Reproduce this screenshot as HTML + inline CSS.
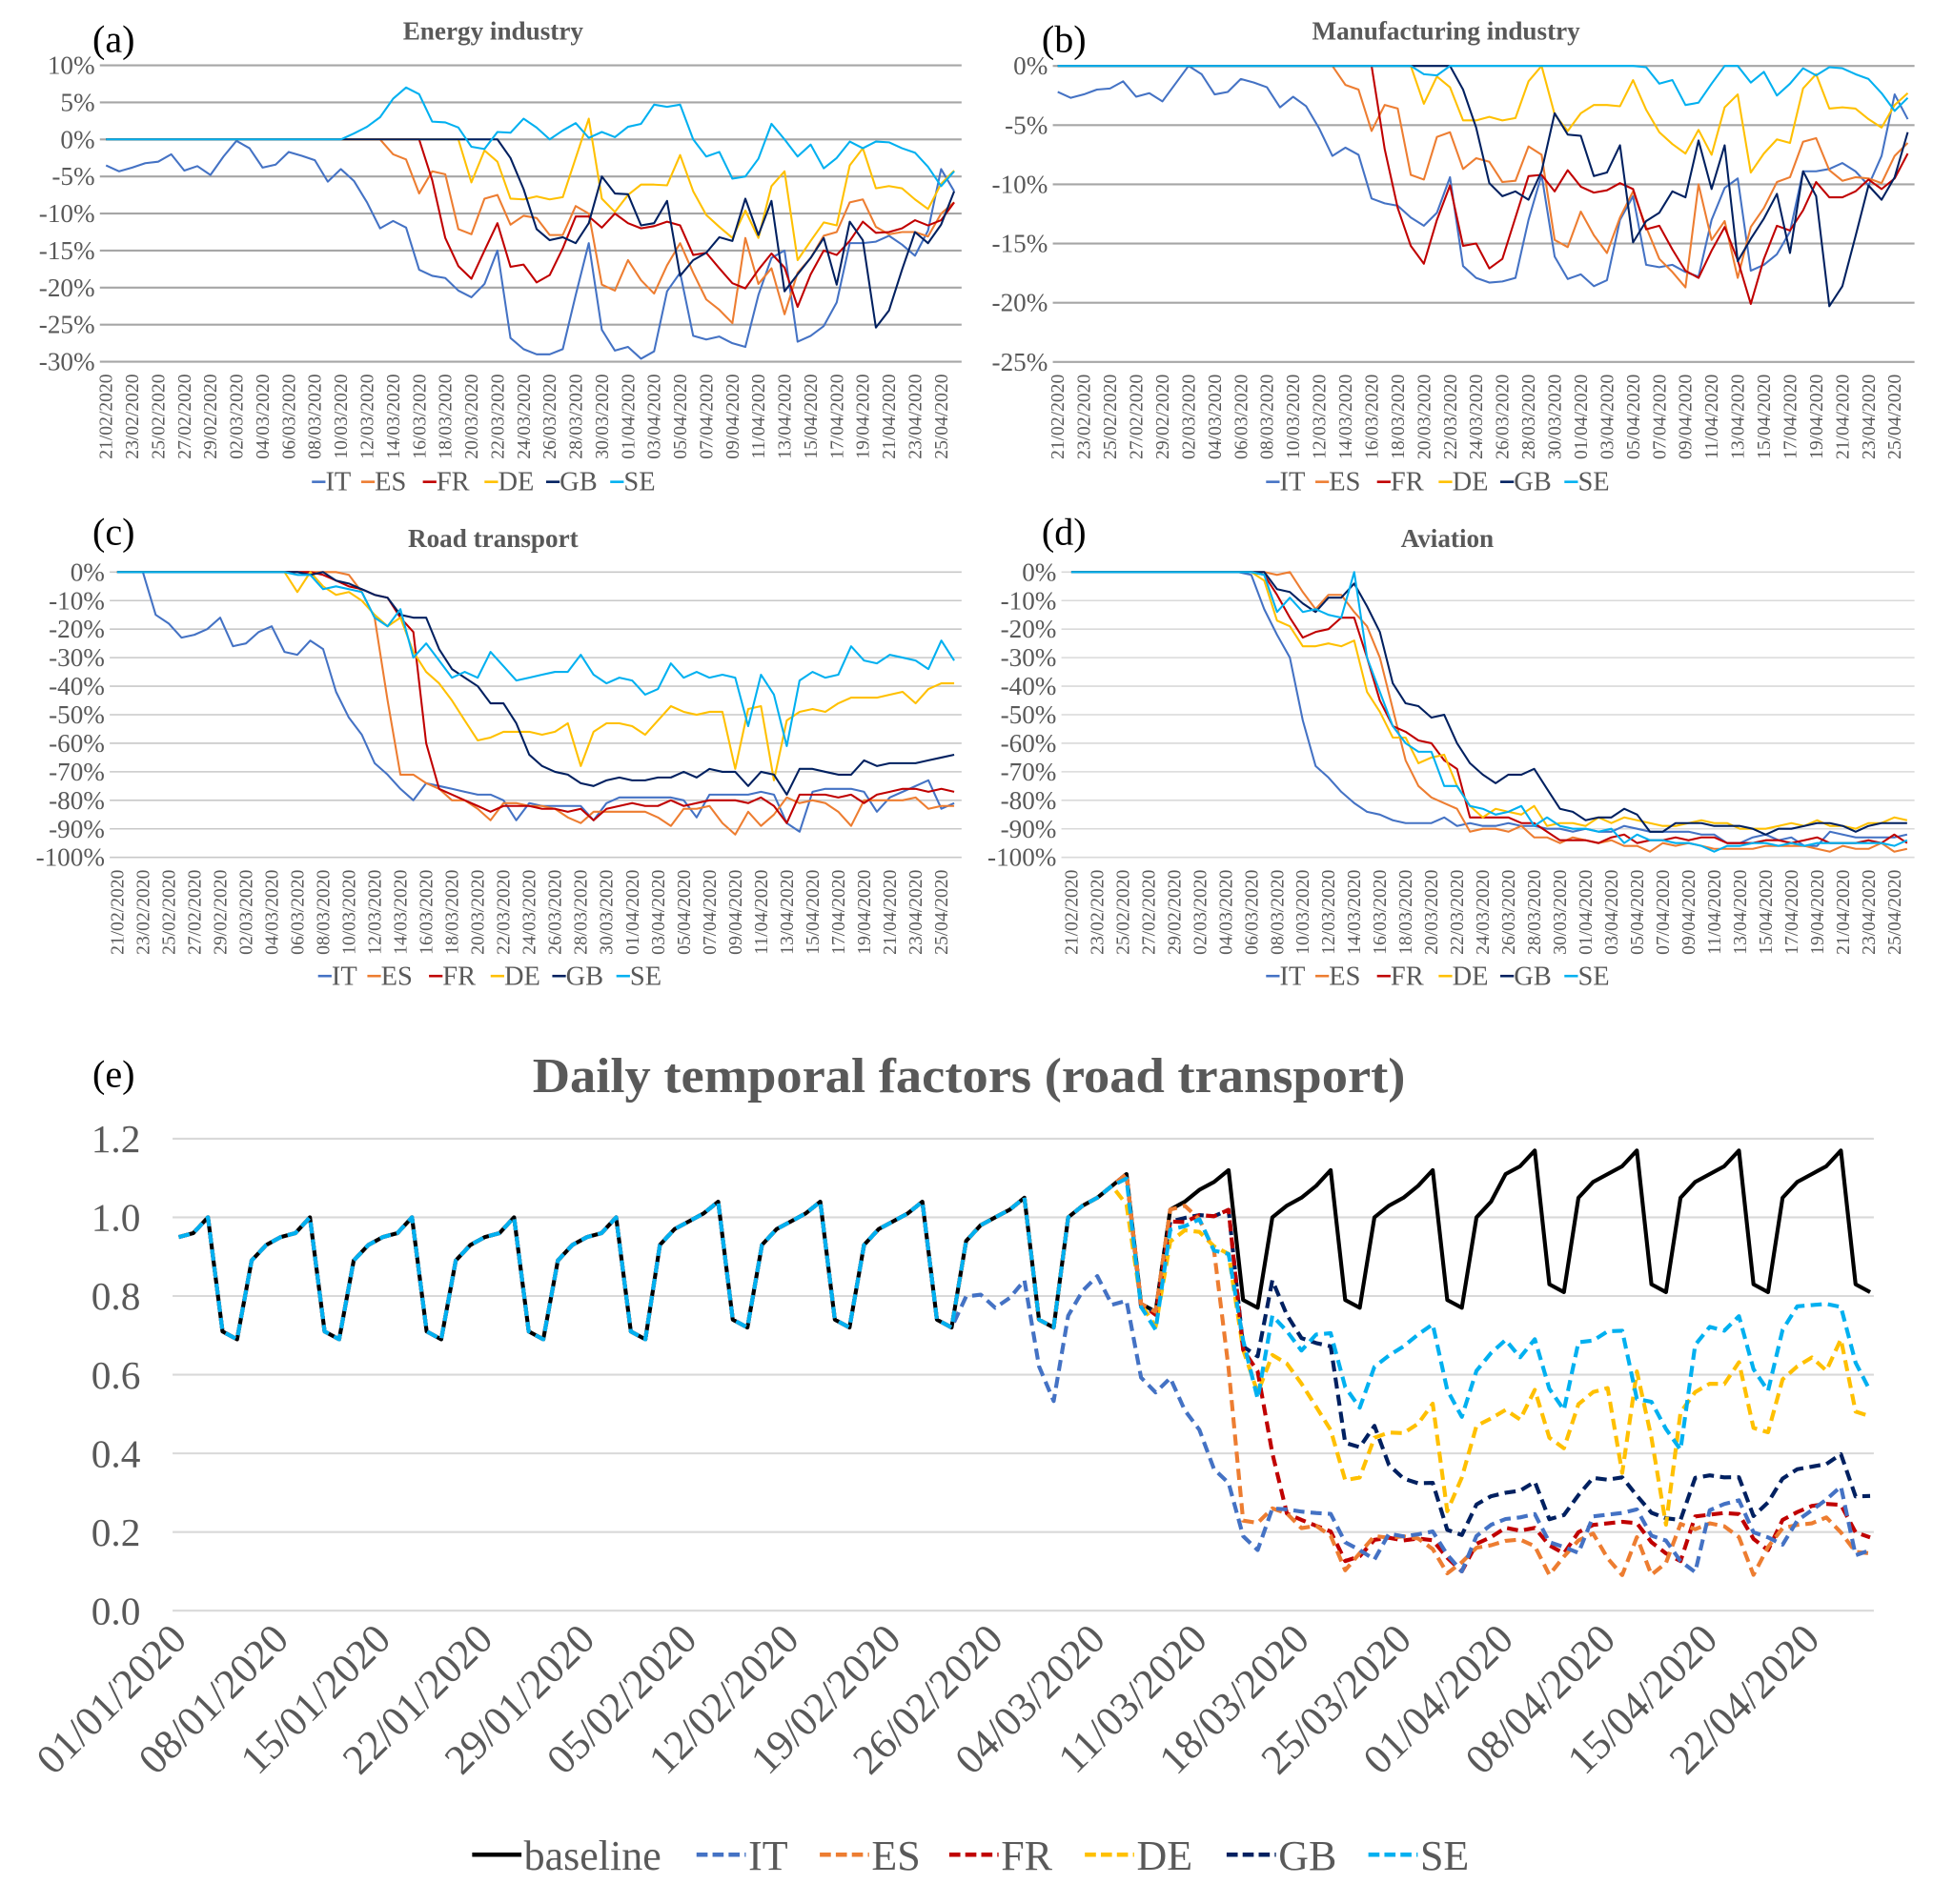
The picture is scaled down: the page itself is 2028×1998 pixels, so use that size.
<!DOCTYPE html>
<html><head><meta charset="utf-8"><style>
html,body{margin:0;padding:0;background:#fff;}
svg{display:block;}
</style></head><body>
<svg id="fig" xmlns="http://www.w3.org/2000/svg" width="2028" height="1998" viewBox="0 0 1568 1545" preserveAspectRatio="none" font-family="'Liberation Serif', serif">
<rect x="0" y="0" width="1568" height="1545" fill="#fff"/>
</svg>
<script>
// ---------- data: panels (a)-(d), % change, 21/02/2020 .. 26/04/2020 (66 days) ----------
const countries = ["IT","ES","FR","DE","GB","SE"];
const countryColors = ["#4472C4","#ED7D31","#C00000","#FFC000","#002060","#00B0F0"];
const Z9 = [0,0,0,0,0,0,0,0,0];

const energyIT = [-3.5,-4.3,-3.8,-3.2,-3,-2,-4.2,-3.6,-4.8,
 -2.3,-0.2,-1.2,-3.8,-3.4,-1.7,-2.2,-2.8,-5.7,-4,-5.6,-8.5,-12,-11,-11.9,-17.6,-18.4,-18.7,-20.4,-21.3,-19.5,-15,-26.8,-28.3,-29,-29,-28.3,-21,-14,-25.7,-28.5,
 -28,-29.6,-28.6,-20.5,-18,-26.5,-27,-26.6,-27.5,-28,-21,-16,-15,-27.3,-26.5,-25.2,-22,-14,-14,-13.8,-13,-14.2,-15.7,-12.3,-4,-7];
const energyES = Z9.concat([0,0,0,0,0,0,0,0,0,0,0,0,0,-2,-2.7,-7.3,-4.3,-4.7,-12.1,-12.8,-8,-7.5,-11.5,-10.3,-10.6,-12.9,-12.9,-9,-10,-19.6,-20.4,
 -16.3,-19,-20.8,-17,-14,-18,-21.6,-23,-24.8,-13.3,-19.5,-17.4,-23.6,-18,-16,-13,-12.5,-8.5,-8.1,-11.8,-12.8,-12.5,-12.5,-13.1,-10,-8.5]);
const energyFR = Z9.concat([0,0,0,0,0,0,0,0,0,0,0,0,0,0,0,0,-5.5,-13.3,-17.1,-18.8,-15,-11.3,-17.2,-16.9,-19.3,-18.3,-14.7,-10.4,-10.4,-11.9,-10,
 -11.3,-12,-11.7,-11.1,-11.6,-15.6,-15.3,-17.4,-19.4,-20.1,-17.6,-15.4,-17.3,-22.6,-18.2,-15,-15.6,-13.7,-11.1,-12.6,-12.5,-12,-10.9,-11.6,-10.9,-8.5]);
const energyDE = Z9.concat([0,0,0,0,0,0,0,0,0,0,0,0,0,0,0,0,0,0,0,-5.8,-1.5,-3,-8,-8.1,-7.7,-8.1,-7.8,-2.5,2.8,-8,-9.8,
 -7.5,-6.1,-6.1,-6.2,-2.1,-7,-10.2,-11.8,-13.3,-9.6,-13.3,-6.3,-4.3,-16.3,-13.7,-11.2,-11.6,-3.5,-1.2,-6.6,-6.3,-6.6,-8.1,-9.4,-6,-4.2]);
const energyGB = Z9.concat([0,0,0,0,0,0,0,0,0,0,0,0,0,0,0,0,0,0,0,0,0,0,-2.5,-6.7,-12.1,-13.6,-13.2,-14,-11.3,-5,-7.3,
 -7.4,-11.6,-11.3,-8.3,-18.4,-16.3,-15.3,-13.2,-13.7,-8,-12.9,-8.3,-20.5,-18.2,-16,-13.3,-19.6,-11.1,-13.6,-25.4,-23.1,-17.6,-12.5,-14,-11.5,-7]);
const energySE = Z9.concat([0,0,0,0,0,0,0,0,0,0,0.8,1.7,3,5.5,7,6.1,2.4,2.3,1.6,-1,-1.3,1,0.9,2.8,1.6,0,1.2,2.2,0.2,1,0.3,
 1.7,2.1,4.7,4.4,4.7,0,-2.3,-1.7,-5.3,-5,-2.6,2.1,0,-2.3,-0.7,-3.9,-2.5,-0.3,-1.2,-0.3,-0.4,-1.2,-1.8,-3.7,-6.3,-4.3]);

const manufIT = [-2.2,-2.7,-2.4,-2,-1.9,-1.3,-2.6,-2.3,-3,
 -1.5,0,-0.7,-2.4,-2.2,-1.1,-1.4,-1.8,-3.5,-2.6,-3.4,-5.3,-7.6,-6.9,-7.5,-11.2,-11.6,-11.8,-12.8,-13.5,-12.4,-9.4,-16.9,-17.9,-18.3,-18.2,-17.9,-13,-9.2,-16.1,-18,
 -17.6,-18.6,-18.1,-13,-11,-16.8,-17,-16.8,-17.4,-17.8,-13,-10.3,-9.5,-17.3,-16.8,-15.9,-14,-8.9,-8.9,-8.7,-8.2,-8.9,-10.1,-7.6,-2.4,-4.5];
const manufES = Z9.concat([0,0,0,0,0,0,0,0,0,0,0,0,0,-1.6,-2,-5.5,-3.3,-3.6,-9.2,-9.6,-6,-5.6,-8.7,-7.8,-8.1,-9.8,-9.7,-6.8,-7.5,-14.7,-15.3,
 -12.3,-14.3,-15.8,-12.8,-10.6,-13.6,-16.3,-17.4,-18.7,-10,-14.7,-13.1,-17.9,-13.6,-12,-9.8,-9.4,-6.4,-6.1,-8.8,-9.7,-9.4,-9.5,-9.9,-7.6,-6.5]);
const manufFR = Z9.concat([0,0,0,0,0,0,0,0,0,0,0,0,0,0,0,0,-7,-12,-15.2,-16.7,-13,-10.1,-15.2,-15,-17.1,-16.3,-12.8,-9.3,-9.2,-10.6,-8.8,
 -10.2,-10.7,-10.5,-9.9,-10.4,-13.8,-13.5,-15.5,-17.3,-17.9,-15.6,-13.6,-16.4,-20.1,-16.3,-13.5,-13.9,-12.2,-9.8,-11.1,-11.1,-10.6,-9.6,-10.4,-9.5,-7.4]);
const manufDE = Z9.concat([0,0,0,0,0,0,0,0,0,0,0,0,0,0,0,0,0,0,0,-3.2,-0.9,-1.8,-4.6,-4.6,-4.3,-4.6,-4.4,-1.3,0,-4.1,-5.5,
 -4,-3.3,-3.3,-3.4,-1.2,-3.7,-5.6,-6.6,-7.4,-5.4,-7.5,-3.5,-2.4,-9,-7.4,-6.2,-6.5,-1.9,-0.7,-3.6,-3.5,-3.6,-4.5,-5.2,-3.3,-2.3]);
const manufGB = Z9.concat([0,0,0,0,0,0,0,0,0,0,0,0,0,0,0,0,0,0,0,0,0,0,-2,-5.2,-9.9,-11,-10.6,-11.3,-8.9,-4,-5.8,
 -5.9,-9.3,-9,-6.7,-14.9,-13.1,-12.4,-10.6,-11.1,-6.3,-10.4,-6.7,-16.5,-14.6,-12.9,-10.8,-15.8,-8.9,-11,-20.3,-18.6,-14.4,-10.1,-11.3,-9.4,-5.6]);
const manufSE = Z9.concat([0,0,0,0,0,0,0,0,0,0,0,0,0,0,0,0,0,0,0,-0.7,-0.8,0,0,0,0,0,0,0,0,0,0,
 0,0,0,0,0,-0.1,-1.5,-1.2,-3.3,-3.1,-1.5,0,0,-1.4,-0.5,-2.5,-1.5,-0.2,-0.8,-0.1,-0.2,-0.7,-1.1,-2.3,-3.8,-2.7]);

const roadIT = [0,0,0,-15,-18,-23,-22,-20,-16,
 -26,-25,-21,-19,-28,-29,-24,-27,-42,-51,-57,-67,-71,-76,-80,-74,-75,-76,-77,-78,-78,-80,-87,-81,-82,-82,-82,-82,-87,-81,-79,
 -79,-79,-79,-79,-80,-86,-78,-78,-78,-78,-77,-78,-88,-91,-77,-76,-76,-76,-77,-84,-79,-77,-75,-73,-83,-81];
const roadES = Z9.concat([0,0,0,0,0,0,0,0,0,-1,-7,-16,-45,-71,-71,-74,-76,-80,-80,-83,-87,-81,-81,-82,-82,-83,-86,-88,-84,-84,-84,
 -84,-84,-86,-89,-83,-83,-82,-88,-92,-84,-89,-85,-79,-81,-80,-81,-84,-89,-80,-80,-80,-80,-79,-83,-82,-82]);
const roadFR = Z9.concat([0,0,0,0,0,0,0,-1,-3,-5,-6,-8,-9,-16,-21,-60,-76,-78,-80,-82,-84,-82,-82,-82,-83,-83,-84,-83,-87,-83,-82,
 -81,-82,-82,-80,-82,-81,-80,-80,-80,-81,-79,-82,-88,-78,-78,-78,-79,-78,-81,-78,-77,-76,-76,-77,-76,-77]);
const roadDE = Z9.concat([0,0,0,0,0,-7,0,-5,-8,-7,-10,-15,-19,-16,-28,-35,-39,-45,-52,-59,-58,-56,-56,-56,-57,-56,-53,-68,-56,-53,-53,
 -54,-57,-52,-47,-49,-50,-49,-49,-69,-48,-47,-73,-52,-49,-48,-49,-46,-44,-44,-44,-43,-42,-46,-41,-39,-39]);
const roadGB = Z9.concat([0,0,0,0,0,0,-1,0,-3,-4,-6,-8,-9,-15,-16,-16,-27,-34,-37,-40,-46,-46,-53,-64,-68,-70,-71,-74,-75,-73,-72,
 -73,-73,-72,-72,-70,-72,-69,-70,-70,-75,-70,-71,-78,-69,-69,-70,-71,-71,-66,-68,-67,-67,-67,-66,-65,-64]);
const roadSE = Z9.concat([0,0,0,0,0,-1,-1,-6,-5,-6,-7,-16,-19,-13,-30,-25,-31,-37,-35,-37,-28,-33,-38,-37,-36,-35,-35,-29,-36,-39,-37,
 -38,-43,-41,-32,-37,-35,-37,-36,-37,-54,-36,-43,-61,-38,-35,-37,-36,-26,-31,-32,-29,-30,-31,-34,-24,-31]);

const aviaIT = Z9.concat([0,0,0,0,0,-1,-13,-22,-30,-52,-68,-72,-77,-81,-84,-85,-87,-88,-88,-88,-86,-89,-88,-89,-89,-88,-89,-89,-90,-90,-91,
 -90,-91,-91,-89,-90,-91,-91,-91,-91,-92,-92,-95,-95,-93,-92,-94,-93,-96,-96,-91,-92,-93,-93,-93,-93,-92]);
const aviaES = Z9.concat([0,0,0,0,0,0,0,-1,0,-7,-13,-8,-8,-14,-19,-30,-48,-66,-75,-79,-81,-83,-91,-90,-90,-91,-89,-93,-93,-95,-93,
 -94,-95,-94,-96,-96,-98,-95,-96,-95,-96,-97,-97,-97,-97,-96,-96,-96,-96,-97,-98,-96,-97,-97,-95,-98,-97]);
const aviaFR = Z9.concat([0,0,0,0,0,0,-1,-8,-16,-23,-21,-20,-16,-16,-30,-45,-54,-56,-59,-60,-66,-69,-86,-86,-86,-86,-88,-88,-91,-94,-94,
 -94,-95,-93,-92,-95,-94,-94,-93,-94,-93,-93,-95,-95,-95,-94,-94,-95,-94,-93,-95,-95,-95,-94,-95,-92,-95]);
const aviaDE = Z9.concat([0,0,0,0,0,0,-3,-17,-19,-26,-26,-25,-26,-24,-42,-49,-58,-58,-67,-65,-64,-75,-82,-86,-83,-84,-85,-82,-89,-88,-88,
 -89,-86,-88,-86,-87,-88,-89,-89,-88,-87,-88,-88,-90,-90,-90,-89,-88,-89,-87,-89,-89,-90,-88,-88,-86,-87]);
const aviaGB = Z9.concat([0,0,0,0,0,0,0,-6,-7,-11,-14,-9,-9,-4,-12,-21,-39,-46,-47,-51,-50,-60,-67,-71,-74,-71,-71,-69,-76,-83,-84,
 -87,-86,-86,-83,-85,-91,-91,-88,-88,-88,-89,-89,-89,-90,-92,-90,-90,-89,-88,-88,-89,-91,-89,-88,-88,-88]);
const aviaSE = Z9.concat([0,0,0,0,0,0,-1,-14,-9,-14,-13,-15,-16,0,-30,-42,-54,-60,-63,-63,-75,-75,-82,-83,-85,-84,-82,-89,-86,-89,-90,
 -90,-91,-90,-95,-92,-94,-94,-95,-95,-96,-98,-96,-96,-95,-95,-96,-95,-96,-95,-95,-95,-95,-95,-95,-96,-94]);

// ---------- data: panel (e) baseline daily factors 01/01/2020 .. 26/04/2020 (117 days) ----------
const baseline = [0.95,0.96,1.00,0.71,0.69,
 0.89,0.93,0.95,0.96,1.00,0.71,0.69, 0.89,0.93,0.95,0.96,1.00,0.71,0.69,
 0.89,0.93,0.95,0.96,1.00,0.71,0.69, 0.89,0.93,0.95,0.96,1.00,0.71,0.69,
 0.93,0.97,0.99,1.01,1.04,0.74,0.72, 0.93,0.97,0.99,1.01,1.04,0.74,0.72,
 0.93,0.97,0.99,1.01,1.04,0.74,0.72, 0.94,0.98,1.00,1.02,1.05,0.74,0.72,
 1.00,1.03,1.05,1.08,1.11,0.78,0.76, 1.02,1.04,1.07,1.09,1.12,0.79,0.77,
 1.00,1.03,1.05,1.08,1.12,0.79,0.77, 1.00,1.03,1.05,1.08,1.12,0.79,0.77,
 1.00,1.04,1.11,1.13,1.17,0.83,0.81, 1.05,1.09,1.11,1.13,1.17,0.83,0.81,
 1.05,1.09,1.11,1.13,1.17,0.83,0.81, 1.05,1.09,1.11,1.13,1.17,0.83,0.81];
const roadStartDay = 51; // 21/02/2020 index in panel (e)
const eTickLabels = ["01/01/2020","08/01/2020","15/01/2020","22/01/2020","29/01/2020","05/02/2020","12/02/2020","19/02/2020","26/02/2020","04/03/2020","11/03/2020","18/03/2020","25/03/2020","01/04/2020","08/04/2020","15/04/2020","22/04/2020"];
const eYTicks = [0,0.2,0.4,0.6,0.8,1.0,1.2];

// ---------- rendering ----------
const NS = "http://www.w3.org/2000/svg";
const svg = document.getElementById('fig');
function el(tag, attrs, parent){ const e=document.createElementNS(NS,tag); for(const k in attrs) e.setAttribute(k,attrs[k]); (parent||svg).appendChild(e); return e; }
function txt(s, attrs, parent){ const e=el('text',attrs,parent); e.textContent=s; return e; }

const smallDates = [];
for(let i=0;i<66;i++){ const d=new Date(Date.UTC(2020,1,21+i)); smallDates.push(String(d.getUTCDate()).padStart(2,'0')+'/'+String(d.getUTCMonth()+1).padStart(2,'0')+'/2020'); }

function panel(o){
  const g = el('g',{});
  
  
  const n = 66;
  const xs = i => o.px0 + i*(o.px1-o.px0)/(n-1);
  const ys = v => o.pyTop + (o.vTop - v)*(o.pyBot-o.pyTop)/(o.vTop-o.vBot);
  o.ticks.forEach(t=>{
    const gl = el('line',{x1:o.gx0,x2:o.gx1,y1:ys(t),y2:ys(t),stroke:o.grid,'stroke-width':o.gw},g);
    
    
    const tl = txt(t+'%',{x:o.gx0-4,y:ys(t)+7,'text-anchor':'end','font-size':21,fill:'#595959'},g);
    
    
  });
  for(let i=0;i<n;i+=2){
    const xl = txt(smallDates[i],{transform:`translate(${xs(i)+5},${o.pyBot+10}) rotate(-90)`,'text-anchor':'end','font-size':15.5,fill:'#595959',textLength:69,lengthAdjust:'spacingAndGlyphs'},g);
    
    
  }
  o.series.forEach((arr,si)=>{
    const p = el('polyline',{points:arr.map((v,i)=>xs(i).toFixed(1)+','+ys(v).toFixed(1)).join(' '),fill:'none',stroke:countryColors[si],'stroke-width':1.6,'stroke-linejoin':'round'},g);
    
    
  });
  const tt = txt(o.title,{x:o.titleX,y:o.titleY,'text-anchor':'middle','font-size':21,'font-weight':'bold',fill:'#595959'},g);
  
  
  const pl = txt(o.label,{x:o.labelX,y:o.labelY,'font-size':31,fill:'#000'},g);
  
  
  let lx = o.legX;
  countries.forEach((c,si)=>{
    const lg = el('g',{},g);
    
    
    el('line',{x1:lx,x2:lx+11,y1:o.legY-7,y2:o.legY-7,stroke:countryColors[si],'stroke-width':2},lg);
    txt(c,{x:lx+11,y:o.legY,'font-size':22,fill:'#595959'},lg);
    lx += (c==='IT'?40:(c==='SE'?48:50))+ (c==='GB'?2:0);
  });
}

panel({name:'chart-energy-industry',series:[energyIT,energyES,energyFR,energyDE,energyGB,energySE],ticks:[10,5,0,-5,-10,-15,-20,-25,-30],vTop:10,vBot:-30,pyTop:53,pyBot:293.5,px0:86,px1:774,gx0:81,gx1:780,grid:'#A6A6A6',gw:1.6,title:'Energy industry',titleX:400,titleY:32,label:'(a)',labelX:75,labelY:42,legX:253,legY:398});
panel({name:'chart-manufacturing-industry',series:[manufIT,manufES,manufFR,manufDE,manufGB,manufSE],ticks:[0,-5,-10,-15,-20,-25],vTop:0,vBot:-25,pyTop:53.5,pyBot:293.7,px0:858,px1:1547.5,gx0:854,gx1:1553,grid:'#A6A6A6',gw:1.6,title:'Manufacturing industry',titleX:1173,titleY:32,label:'(b)',labelX:845,labelY:42,legX:1027,legY:398});
panel({name:'chart-road-transport',series:[roadIT,roadES,roadFR,roadDE,roadGB,roadSE],ticks:[0,-10,-20,-30,-40,-50,-60,-70,-80,-90,-100],vTop:0,vBot:-100,pyTop:464.2,pyBot:695.7,px0:95,px1:774,gx0:89,gx1:780,grid:'#C8C8C8',gw:1.2,title:'Road transport',titleX:400,titleY:444,label:'(c)',labelX:75,labelY:442,legX:258,legY:799});
panel({name:'chart-aviation',series:[aviaIT,aviaES,aviaFR,aviaDE,aviaGB,aviaSE],ticks:[0,-10,-20,-30,-40,-50,-60,-70,-80,-90,-100],vTop:0,vBot:-100,pyTop:464.2,pyBot:695.7,px0:869,px1:1547,gx0:861,gx1:1553,grid:'#D9D9D9',gw:1.2,title:'Aviation',titleX:1174,titleY:444,label:'(d)',labelX:845,labelY:442,legX:1027,legY:799});

// ---------- panel (e) ----------
(function(){
  const g = el('g',{});
  
  
  const nE = baseline.length;
  const xE = d => 145 + d*(1517-145)/(nE-1);
  const yE = v => 1307 - v*(1307-924)/1.2;
  eYTicks.forEach(t=>{
    const gl = el('line',{x1:140,x2:1520,y1:yE(t),y2:yE(t),stroke:'#D9D9D9','stroke-width':1.6},g);
    
    
    const tl = txt(t.toFixed(1),{x:114,y:yE(t)+11,'text-anchor':'end','font-size':32,fill:'#595959'},g);
    
    
  });
  eTickLabels.forEach((s,k)=>{
    const xl = txt(s,{transform:`translate(${xE(k*7)+8},${1332}) rotate(-45)`,'text-anchor':'end','font-size':34,fill:'#595959'},g);
    
    
  });
  const roadSeries=[roadIT,roadES,roadFR,roadDE,roadGB,roadSE];
  const bl = el('polyline',{points:baseline.map((v,d)=>xE(d).toFixed(1)+','+yE(v).toFixed(1)).join(' '),fill:'none',stroke:'#000','stroke-width':3.2,'stroke-linejoin':'round'},g);
  
  
  const order=[4,3,2,1,0,5];
  order.forEach(si=>{
    const r=roadSeries[si];
    const vals = baseline.map((b,d)=> d<roadStartDay ? b : b*(1+r[d-roadStartDay]/100));
    const p = el('polyline',{points:vals.map((v,d)=>xE(d).toFixed(1)+','+yE(v).toFixed(1)).join(' '),fill:'none',stroke:countryColors[si],'stroke-width':3.2,'stroke-dasharray':'9,5','stroke-linejoin':'round'},g);
    
    
  });
  const tt = txt('Daily temporal factors (road transport)',{x:786,y:886,'text-anchor':'middle','font-size':40,'font-weight':'bold',fill:'#595959',textLength:708,lengthAdjust:'spacingAndGlyphs'},g);
  
  
  const pl = txt('(e)',{x:75,y:882,'font-size':31,fill:'#000'},g);
  
  
  const names=['baseline'].concat(countries), cols=['#000'].concat(countryColors);
  const widths=[182,100,105,110,115,115,80];
  let lx=383;
  names.forEach((nm,i)=>{
    const lg = el('g',{},g);
    
    
    el('line',{x1:lx,x2:lx+40,y1:1505,y2:1505,stroke:cols[i],'stroke-width':3.5,'stroke-dasharray':i===0?'none':'9,4'},lg);
    txt(nm,{x:lx+42,y:1517,'font-size':34,fill:'#595959'},lg);
    lx+=widths[i];
  });
})();
</script>
</body></html>
